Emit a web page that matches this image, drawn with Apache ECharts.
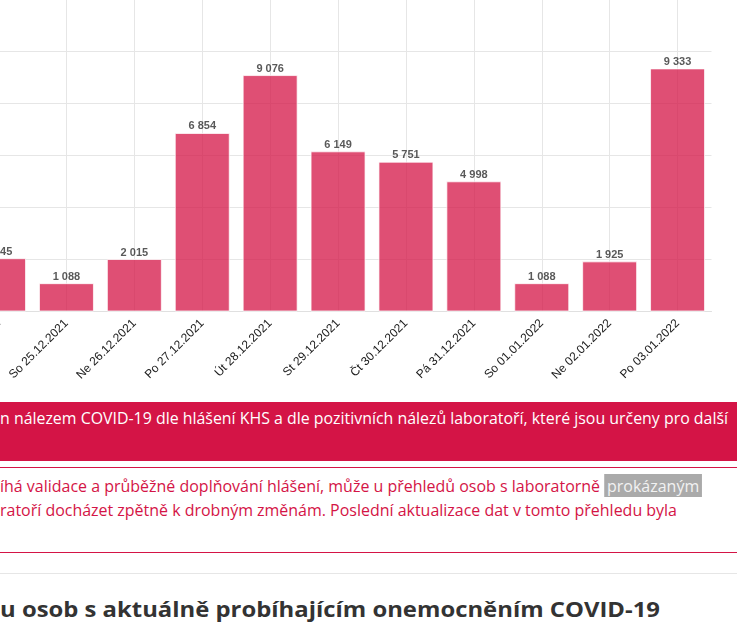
<!DOCTYPE html>
<html><head><meta charset="utf-8">
<script src="https://cdn.jsdelivr.net/npm/echarts@6/dist/echarts.min.js"></script>
<style>
html,body{margin:0;padding:0;background:#fff;overflow:hidden;width:737px;height:639px;position:relative;}
#chart{position:absolute;left:-100px;top:-10px;width:850px;height:405px;}
.t{position:absolute;left:0;white-space:nowrap;font-family:"Open Sans";transform-origin:0 50%;}
.banner{position:absolute;left:0;top:402px;width:737px;height:59px;background:#d41446;}
.hl{position:absolute;left:0;width:737px;height:1px;}
.hi{background:#aaaaaa;color:#f2f2f2;padding:0 3px;}
</style></head>
<body>
<div id="chart"></div>
<div class="banner"></div>
<div class="t" data-w="728" style="top:406px;font-size:17px;line-height:24px;color:#fff;">n nálezem COVID-19 dle hlášení KHS a dle pozitivních nálezů laboratoří, které jsou určeny pro další</div>
<div class="hl" style="top:467px;background:#d41446;"></div>
<div class="t" data-w="702" style="top:473.5px;font-size:17px;line-height:24px;color:#d41446;">íhá validace a průběžné doplňování hlášení, může u přehledů osob s laboratorně <span class="hi">prokázaným</span></div>
<div class="t" data-w="677" style="top:497.5px;font-size:17px;line-height:24px;color:#d41446;">ratoří docházet zpětně k drobným změnám. Poslední aktualizace dat v tomto přehledu byla</div>
<div class="hl" style="top:552px;background:#d41446;"></div>
<div class="hl" style="top:573px;background:#e6e6e6;"></div>
<div class="t" data-w="660" style="top:592.5px;font-size:22px;line-height:30px;color:#333;font-weight:bold;">u osob s aktuálně probíhajícím onemocněním COVID-19</div>
<script>
const categories = ['Pá 24.12.2021','So 25.12.2021','Ne 26.12.2021','Po 27.12.2021','Út 28.12.2021','St 29.12.2021','Čt 30.12.2021','Pá 31.12.2021','So 01.01.2022','Ne 02.01.2022','Po 03.01.2022'];
const values = [2045,1088,2015,6854,9076,6149,5751,4998,1088,1925,9333];
const yMax = 12000;
const yStep = 2000;

document.querySelectorAll('.t').forEach(function(el){
  const w = el.getBoundingClientRect().width;
  const target = parseFloat(el.dataset.w);
  el.style.transform = 'scaleX(' + (target / w) + ')';
});

function fmt(v){ return String(v).replace(/\B(?=(\d{3})+(?!\d))/g, ' '); }

const chart = echarts.init(document.getElementById('chart'), null, {renderer:'canvas'});
chart.setOption({
  animation:false,
  grid:{left:64.6, width:746.9, top:8.9, bottom:83.5, containLabel:false},
  xAxis:{
    type:'category', data:categories, boundaryGap:true,
    axisLine:{show:true, lineStyle:{color:'#e0e0e0'}},
    axisTick:{show:false, alignWithLabel:true},
    splitLine:{show:true, alignWithLabel:true, lineStyle:{color:'#e6e6e6'}},
    axisLabel:{rotate:45, interval:0, margin:10, fontSize:12, color:'#1a1a1a', fontFamily:'Liberation Sans'}
  },
  yAxis:{
    type:'value', min:0, max:yMax, interval:yStep,
    axisLabel:{show:false}, axisLine:{show:false}, axisTick:{show:false},
    splitLine:{lineStyle:{color:'#e6e6e6'}}
  },
  series:[{
    type:'bar', data:values, barWidth:55,
    itemStyle:{color:'#d41446', opacity:0.75, borderColor:'#ffffff', borderWidth:1},
    label:{show:true, position:'top', distance:1, fontSize:11, fontWeight:'bold', color:'#222', fontFamily:'Liberation Sans', formatter:function(p){return fmt(p.value);}}
  }]
});
</script>
</body></html>
